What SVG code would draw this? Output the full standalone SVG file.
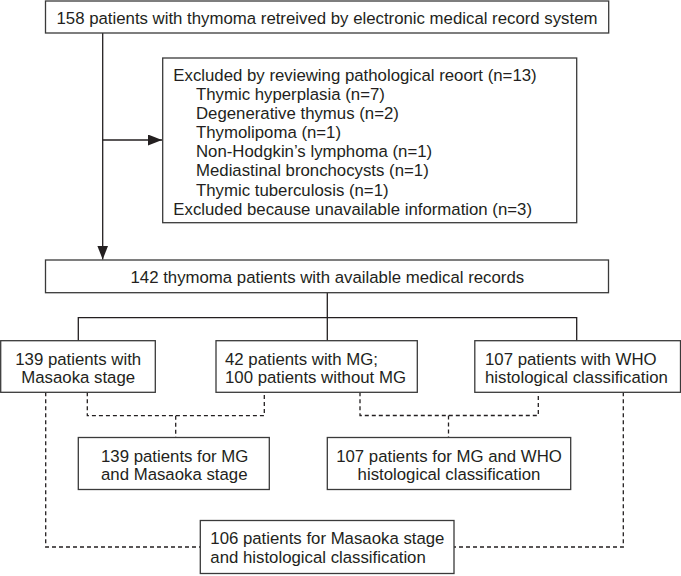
<svg xmlns="http://www.w3.org/2000/svg" width="681" height="576" viewBox="0 0 681 576">
<defs>
<style>
.box{fill:#fff;stroke:#3a3a3a;stroke-width:1.3}
.t{font-family:"Liberation Sans",Arial,sans-serif;font-size:16.8px;fill:#231f20}
.c{text-anchor:middle}
.ln{fill:none;stroke:#231f20;stroke-width:1.3}
.d{fill:none;stroke:#231f20;stroke-width:1.3;stroke-dasharray:4 3}
</style>
<marker id="ah" markerWidth="14" markerHeight="11" refX="14" refY="5.5" orient="auto" markerUnits="userSpaceOnUse">
<path d="M0,0 L14,5.5 L0,11 Z" fill="#231f20"/>
</marker>
</defs>
<rect width="681" height="576" fill="#fff"/>
<g id="connectors">
<line class="ln" x1="102.7" y1="33" x2="102.7" y2="259.5" marker-end="url(#ah)"/>
<line class="ln" x1="102.7" y1="140" x2="162" y2="140" marker-end="url(#ah)"/>
<polyline class="ln" points="327.3,292.7 327.3,317.7"/>
<polyline class="ln" points="78.3,340.7 78.3,317.7 576.7,317.7 576.7,340.7"/>
<line class="ln" x1="327.3" y1="317.7" x2="327.3" y2="340.7"/>
<polyline class="d" points="87.3,392.3 87.3,415.7 264.3,415.7 264.3,392.3"/>
<line class="d" x1="175.7" y1="415.7" x2="175.7" y2="437.5"/>
<polyline class="d" points="360,392.3 360,415.5 538.3,415.5 538.3,392.3"/>
<line class="d" x1="448.5" y1="415.5" x2="448.5" y2="437.5"/>
<polyline class="d" points="45.7,392.3 45.7,547 200.3,547"/>
<polyline class="d" points="623.3,392.3 623.3,547 454,547"/>
</g>
<g id="n158">
<rect class="box" x="45.5" y="1" width="563.2" height="32"/>
<text class="t c" x="327" y="24">158 patients with thymoma retreived by electronic medical record system</text>
</g>
<g id="excluded">
<rect class="box" x="162.7" y="58" width="414" height="164.7"/>
<text class="t" x="173.3" y="81.2">Excluded by reviewing pathological reoort (n=13)</text>
<text class="t" x="196" y="100.25">Thymic hyperplasia (n=7)</text>
<text class="t" x="196" y="119.3">Degenerative thymus (n=2)</text>
<text class="t" x="196" y="138.35">Thymolipoma (n=1)</text>
<text class="t" x="196" y="157.4">Non-Hodgkin’s lymphoma (n=1)</text>
<text class="t" x="196" y="176.45">Mediastinal bronchocysts (n=1)</text>
<text class="t" x="196" y="195.5">Thymic tuberculosis (n=1)</text>
<text class="t" x="173.3" y="214.55">Excluded because unavailable information (n=3)</text>
</g>
<g id="n142">
<rect class="box" x="45.5" y="260" width="563" height="32.7"/>
<text class="t c" x="327.3" y="282.7">142 thymoma patients with available medical records</text>
</g>
<g id="masaoka">
<rect class="box" x="0.7" y="340.7" width="154.6" height="51.6"/>
<text class="t c" x="78.2" y="364.5">139 patients with</text>
<text class="t c" x="78.2" y="383">Masaoka stage</text>
</g>
<g id="mg">
<rect class="box" x="216" y="340.7" width="201.3" height="51.6"/>
<text class="t" x="225" y="364.5">42 patients with MG;</text>
<text class="t" x="225" y="383">100 patients without MG</text>
</g>
<g id="who">
<rect class="box" x="474.8" y="340.7" width="205.7" height="51.6"/>
<text class="t" x="485" y="364.5">107 patients with WHO</text>
<text class="t" x="485" y="383">histological classification</text>
</g>
<g id="mg_masaoka">
<rect class="box" x="78.3" y="437.5" width="191" height="52"/>
<text class="t" x="101" y="461.5">139 patients for MG</text>
<text class="t" x="101" y="480">and Masaoka stage</text>
</g>
<g id="mg_who">
<rect class="box" x="327.3" y="437.5" width="243.4" height="52"/>
<text class="t c" x="449" y="461.5">107 patients for MG and WHO</text>
<text class="t c" x="449" y="480">histological classification</text>
</g>
<g id="masaoka_hist">
<rect class="box" x="200.3" y="520.5" width="253.7" height="53"/>
<text class="t" x="210.3" y="544">106 patients for Masaoka stage</text>
<text class="t" x="210.3" y="562.5">and histological classification</text>
</g>
</svg>
